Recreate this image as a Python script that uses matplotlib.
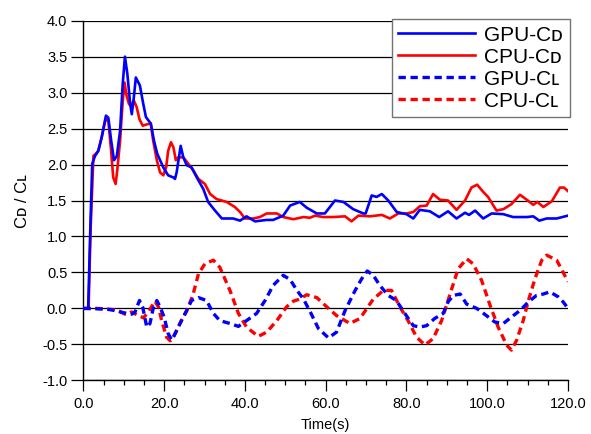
import numpy as np
import matplotlib
matplotlib.use('Agg')
import matplotlib.pyplot as plt
from matplotlib.ticker import MultipleLocator, FormatStrFormatter

plt.rcParams['font.family'] = ['Liberation Sans', 'DejaVu Sans']

# GPU drag coefficient
t_gpu_cd = [0, 1.2, 1.7, 2.2, 2.9, 3.7, 4.55, 5.6, 6.2, 6.9, 7.6, 8.3, 9.1, 9.75, 10.3, 10.9,
            11.6, 12.0, 12.5, 13.0, 14.0, 14.85, 15.5, 16.7, 17.5, 18.3, 19.8, 21.0, 22.3,
            22.7, 23.1, 24.1, 24.75, 25.6, 26.8, 28.1, 29.7, 30.9, 32.6, 34.3, 37.1, 38.8,
            40.4, 42.5, 45.4, 47.0, 49.5, 51.2, 53.6, 55.3, 57.8, 59.8, 62.3, 64.4, 66.8,
            69.3, 69.9, 71.4, 72.6, 73.9, 75.5, 77.6, 80.0, 81.7, 83.3, 85.8, 88.1, 90.3,
            92.4, 94.5, 95.5, 97.0, 99.0, 101.1, 104.0, 106.4, 109.8, 111.4, 112.9, 114.7,
            117.2, 120.0]
gpu_cd = [0, 0, 1.05, 2.01, 2.12, 2.19, 2.38, 2.68, 2.65, 2.33, 2.06, 2.12, 2.47, 3.12, 3.5, 3.26,
          2.84, 2.7, 2.93, 3.21, 3.1, 2.84, 2.66, 2.57, 2.33, 2.15, 1.96, 1.85, 1.82,
          1.8, 1.89, 2.26, 2.1, 1.99, 1.96, 1.82, 1.66, 1.48, 1.36, 1.25, 1.25, 1.22,
          1.28, 1.21, 1.23, 1.23, 1.29, 1.43, 1.48, 1.40, 1.32, 1.32, 1.5, 1.48, 1.38,
          1.32, 1.32, 1.57, 1.55, 1.59, 1.5, 1.34, 1.31, 1.25, 1.37, 1.35, 1.27, 1.35,
          1.25, 1.33, 1.30, 1.36, 1.25, 1.32, 1.31, 1.27, 1.27, 1.28, 1.22, 1.25,
          1.25, 1.29]

# CPU drag coefficient
t_cpu_cd = [0, 1.3, 1.8, 2.5, 3.1, 3.7, 4.55, 5.5, 6.2, 6.8, 7.4, 8.0, 8.4, 9.1, 9.7, 10.2,
            10.7, 11.3, 11.8, 12.5, 13.2, 13.9, 14.7, 15.8, 16.7, 17.3, 18.2, 19.0, 19.8,
            20.5, 21.0, 21.7, 22.3, 22.9, 23.5, 24.75, 26.0, 27.2, 28.5, 30.1, 31.4, 33.0,
            35.5, 37.5, 38.8, 40.0, 42.1, 43.7, 45.4, 47.9, 49.5, 52.0, 54.5, 56.1, 57.4,
            59.4, 61.9, 64.8, 66.4, 68.1, 71.0, 73.9, 75.9, 78.0, 80.0, 81.7, 83.3, 85.0,
            86.6, 88.3, 90.3, 92.4, 94.5, 96.1, 97.5, 99.0, 100.2, 102.3, 104.0, 106.0,
            108.1, 109.8, 111.4, 112.4, 113.9, 116.0, 118.0, 119.0, 120.0]
cpu_cd = [0, 0, 1.1, 2.12, 2.15, 2.19, 2.38, 2.63, 2.6, 2.24, 1.82, 1.73, 1.92, 2.33, 2.84, 3.14,
          2.96, 2.84, 2.82, 2.89, 2.80, 2.63, 2.54, 2.56, 2.57, 2.33, 2.06, 1.89, 1.85,
          1.96, 2.19, 2.31, 2.24, 2.06, 2.10, 2.10, 2.01, 1.92, 1.80, 1.73, 1.59, 1.52,
          1.48, 1.41, 1.34, 1.25, 1.25, 1.27, 1.32, 1.32, 1.27, 1.24, 1.27, 1.26, 1.29,
          1.27, 1.27, 1.28, 1.21, 1.29, 1.28, 1.30, 1.25, 1.32, 1.32, 1.34, 1.42, 1.43,
          1.59, 1.51, 1.5, 1.37, 1.5, 1.68, 1.72, 1.62, 1.55, 1.36, 1.38, 1.45,
          1.58, 1.51, 1.44, 1.48, 1.41, 1.49, 1.68, 1.68, 1.63]

# GPU lift coefficient
t_gpu_cl = [0, 5.8, 7.8, 9.9, 12.0, 12.8, 13.9, 14.7, 15.7, 16.5, 17.3, 18.2, 19.0, 20.0,
            21.0, 21.9, 23.1, 24.3, 25.6, 26.8, 28.5, 30.5, 32.2, 33.8, 36.3, 38.4, 40.4,
            42.9, 45.0, 47.0, 49.5, 51.2, 52.9, 54.5, 56.2, 58.2, 60.7, 62.7, 64.8, 67.3,
            68.9, 70.3, 71.8, 73.4, 75.5, 77.5, 79.6, 81.7, 83.3, 85.0, 87.0, 89.1, 90.3,
            91.6, 93.3, 94.9, 97.4, 99.8, 101.9, 104.0, 106.0, 108.1, 110.2, 112.2, 113.9,
            115.5, 117.6, 118.8, 120.0]
gpu_cl = [0, -0.01, -0.03, -0.06, -0.08, -0.05, 0.11, 0.02, -0.26, -0.21, 0.0, 0.11, 0.02, -0.12,
          -0.35, -0.44, -0.31, -0.17, -0.03, 0.11, 0.15, 0.11, -0.07, -0.17, -0.21, -0.25, -0.17,
          -0.07, 0.11, 0.32, 0.46, 0.40, 0.25, 0.13, -0.05, -0.28, -0.41, -0.33, -0.03, 0.25,
          0.41, 0.52, 0.46, 0.32, 0.18, 0.11, -0.07, -0.24, -0.26, -0.24, -0.14, -0.07, 0.09,
          0.18, 0.20, 0.06, 0.0, -0.10, -0.19, -0.21, -0.12, -0.03, 0.09, 0.18, 0.20,
          0.23, 0.16, 0.09, 0.0]

# CPU lift coefficient
t_cpu_cl = [0, 3.3, 5.8, 8.3, 10.3, 12.0, 13.6, 14.9, 16.1, 17.7, 18.6, 19.4, 20.6, 21.5, 22.3,
            23.9, 25.6, 27.1, 28.5, 30.1, 32.2, 33.8, 36.3, 38.4, 40.4, 43.3, 45.4, 47.9,
            50.3, 52.0, 53.6, 55.3, 57.8, 60.3, 62.7, 66.0, 68.5, 71.8, 74.3, 76.3, 78.4,
            80.4, 82.5, 84.6, 86.6, 88.7, 90.8, 92.8, 94.9, 96.5, 98.6, 100.6, 102.7, 104.8,
            106.0, 107.3, 108.9, 110.2, 111.8, 113.5, 114.7, 117.2, 118.8, 120.0]
cpu_cl = [0, 0, -0.01, -0.02, -0.08, -0.05, -0.10, -0.13, -0.05, 0.10, 0.02, -0.17, -0.40, -0.45,
          -0.40, -0.21, -0.03, 0.18, 0.48, 0.62, 0.67, 0.57, 0.25, -0.07, -0.26, -0.39, -0.33,
          -0.17, 0.02, 0.10, 0.13, 0.19, 0.15, 0.02, -0.10, -0.21, -0.14, 0.13, 0.25, 0.25, 0.02,
          -0.17, -0.40, -0.51, -0.42, -0.17, 0.20, 0.55, 0.69, 0.62, 0.39, 0.06, -0.26, -0.51,
          -0.58, -0.44, -0.17, 0.11, 0.41, 0.67, 0.74, 0.67, 0.50, 0.37]

fig = plt.figure(figsize=(5.91, 4.34), dpi=100)
ax = fig.add_axes([0.141, 0.1237, 0.8201, 0.8286])

ax.plot(t_gpu_cd, gpu_cd, color='#0000ff', lw=1.9, label='GPU-C\u1d05', zorder=4)
ax.plot(t_cpu_cd, cpu_cd, color='#ff0000', lw=1.9, label='CPU-C\u1d05', zorder=3)
ax.plot(t_gpu_cl, gpu_cl, color='#0000ff', lw=2.4, ls=(0, (2.2, 1.4)), label='GPU-C\u029f', zorder=4)
ax.plot(t_cpu_cl, cpu_cl, color='#ff0000', lw=2.4, ls=(0, (2.2, 1.4)), label='CPU-C\u029f', zorder=3)

ax.set_xlim(0, 120)
ax.set_ylim(-1, 4)
ax.xaxis.set_major_locator(MultipleLocator(20))
ax.xaxis.set_minor_locator(MultipleLocator(5))
ax.yaxis.set_major_locator(MultipleLocator(0.5))
ax.xaxis.set_major_formatter(FormatStrFormatter('%.1f'))
ax.yaxis.set_major_formatter(FormatStrFormatter('%.1f'))
ax.yaxis.grid(True, color='black', lw=0.9)
ax.set_axisbelow(True)

for s in ['top', 'right']:
    ax.spines[s].set_visible(False)
ax.spines['left'].set_linewidth(1.0)
ax.spines['bottom'].set_linewidth(1.0)

ax.tick_params(axis='y', which='major', length=8.5, width=0.9, labelsize=10.5, pad=3)
ax.tick_params(axis='x', which='major', length=8, width=0.9, labelsize=10.5, pad=4)
ax.tick_params(axis='x', which='minor', length=3.5, width=0.9)

ax.set_xlabel('Time(s)', fontsize=10.5, labelpad=5)
ax.set_ylabel('C\u1d05 / C\u029f', fontsize=12, labelpad=9)

leg = ax.legend(loc='upper right', bbox_to_anchor=(1.004, 1.005), borderaxespad=0,
                fontsize=15, handlelength=3.7, fancybox=False, framealpha=1,
                edgecolor='0.45', labelspacing=0.14, borderpad=0.33, handletextpad=0.43)
leg.get_frame().set_linewidth(1.0)

fig.savefig('out.png', dpi=100)
